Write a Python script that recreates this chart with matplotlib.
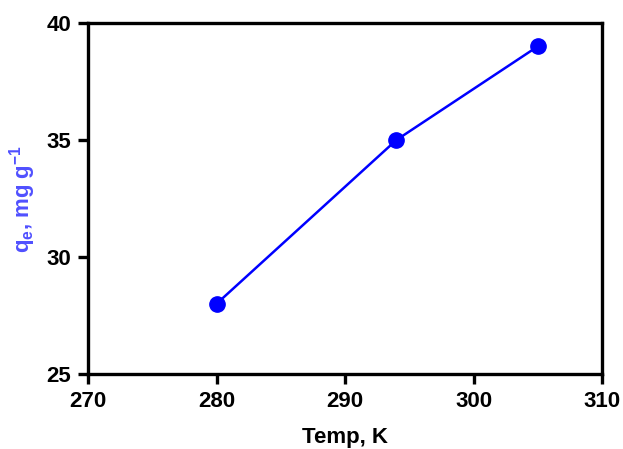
import matplotlib
matplotlib.use("Agg")
import matplotlib.pyplot as plt

temps = [280, 294, 305]
qe = [28, 35, 39]
xticks = [270, 280, 290, 300, 310]
yticks = [25, 30, 35, 40]

plt.rcParams['font.family'] = ['Liberation Sans', 'DejaVu Sans']
plt.rcParams['font.weight'] = 'bold'

fig = plt.figure(figsize=(6.23, 4.49), dpi=100)
ax = fig.add_axes([88/623, 1-374/449, (602-88)/623, (374-23)/449])

ax.plot(temps, qe, color='#0000ff', lw=1.8, marker='o', ms=11, zorder=3, clip_on=False)

ax.set_xlim(270, 310)
ax.set_ylim(25, 40)
ax.set_xticks(xticks)
ax.set_yticks(yticks)
for s in ax.spines.values():
    s.set_linewidth(2.4)
ax.tick_params(direction='out', length=7, width=2.4, labelsize=16, pad=5)
for lab in ax.get_xticklabels() + ax.get_yticklabels():
    lab.set_fontweight('bold')

ax.set_xlabel('Temp, K', fontsize=16, fontweight='bold', labelpad=11)
ax.set_ylabel(r'q$_\mathregular{e}$, mg g$^\mathregular{-1}$', fontsize=16, fontweight='bold',
              color='#5050ff', labelpad=6)

fig.savefig('out.png', dpi=100)
